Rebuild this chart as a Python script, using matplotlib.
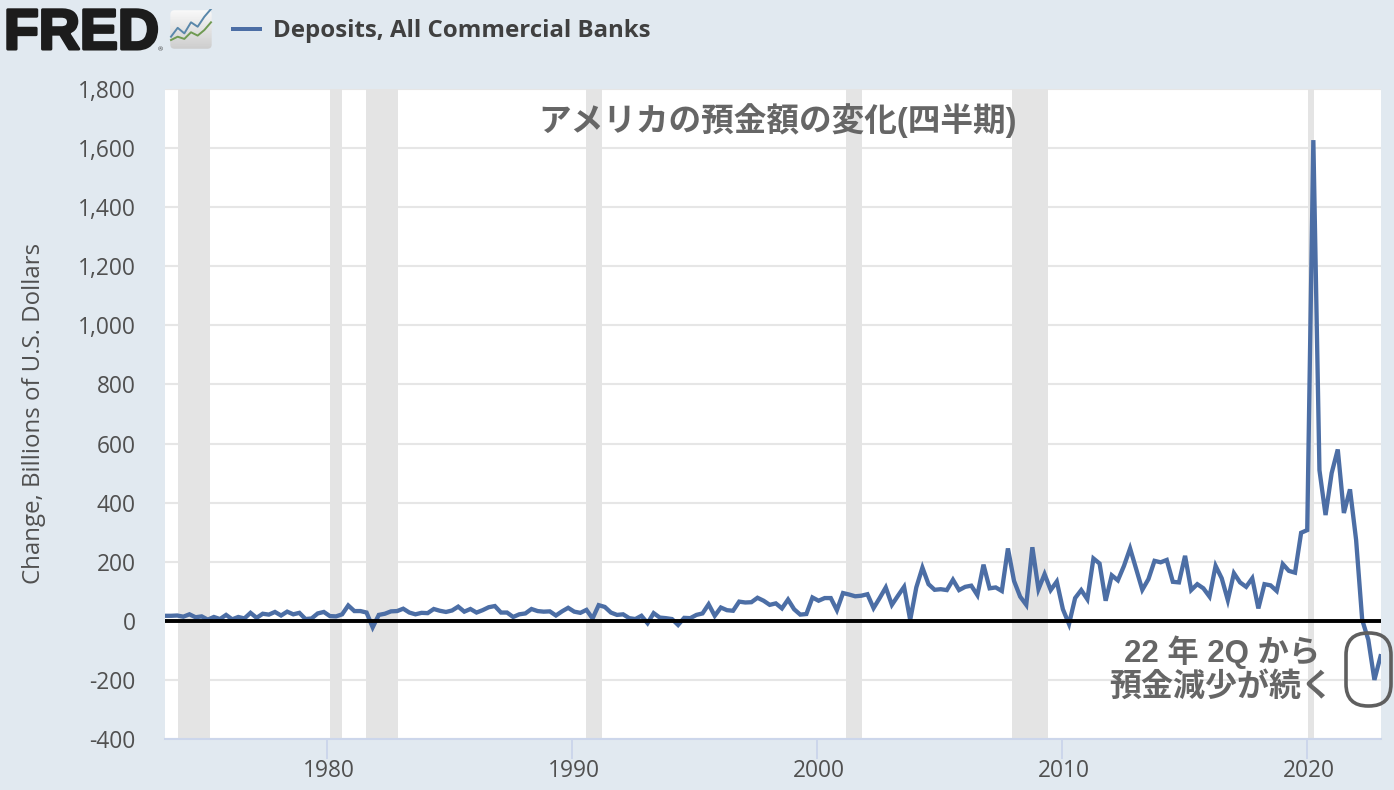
#!/usr/bin/python3
# -*- coding: UTF-8 -*-

import matplotlib
matplotlib.use("Agg")
import matplotlib.pyplot as plt
import matplotlib.patheffects as pe
import matplotlib.transforms as mtrans
import numpy as np
from matplotlib.patches import FancyBboxPatch, Rectangle

W, H = 1394, 790

# quarterly change in deposits, billions of dollars, 200 quarters up to 2023 Q1
changes = [
    17, 17, 18, 14, 22, 12, 15, 4, 13, 6,
    20, 5, 13, 8, 27, 10, 24, 21, 30, 18,
    31, 22, 27, 6, 8, 25, 30, 16, 15, 22,
    52, 33, 33, 28, -22, 20, 24, 32, 33, 41,
    28, 22, 27, 26, 40, 34, 30, 35, 48, 31,
    40, 28, 36, 46, 50, 28, 28, 13, 22, 25,
    40, 33, 31, 32, 18, 32, 44, 31, 27, 37,
    8, 53, 47, 28, 20, 22, 9, 6, 17, -8,
    26, 11, 9, 6, -14, 10, 9, 20, 25, 56,
    17, 45, 36, 34, 65, 62, 63, 78, 68, 54,
    59, 42, 72, 39, 21, 23, 79, 68, 77, 77,
    36, 94, 89, 83, 85, 90, 43, 77, 113, 54,
    85, 115, 3, 113, 180, 124, 105, 107, 104, 139,
    104, 115, 119, 87, 190, 110, 113, 101, 245, 135,
    82, 54, 249, 107, 158, 104, 133, 39, -11, 77,
    104, 73, 211, 194, 68, 154, 137, 186, 245, 175,
    105, 141, 203, 198, 206, 132, 130, 220, 104, 124,
    110, 82, 186, 144, 70, 161, 130, 115, 144, 42,
    124, 120, 101, 192, 169, 163, 298, 307, 1627, 510,
    358, 500, 580, 365, 445, 274, 3, -64, -200, -120,
]
start_year = 1973.39
quarter_step = 0.2493

recession_start = [1973.92, 1980.12, 1981.59, 1990.57, 2001.18, 2007.96, 2020.04]
recession_end = [1975.22, 1980.61, 1982.90, 1991.22, 2001.84, 2009.43, 2020.29]

y_ticks = [-400, -200, 0, 200, 400, 600, 800, 1000, 1200, 1400, 1600, 1800]
x_ticks = [1980, 1990, 2000, 2010, 2020]

icon_x = [0, 1, 2, 3, 4, 5, 6]
icon_blue = [1.0, 2.6, 1.6, 3.6, 2.8, 4.6, 6.0]
icon_green = [0.4, 1.0, 0.6, 1.8, 1.2, 2.2, 3.6]

BG = "#e1e9f0"
LINE = "#4c6ea5"
GRAY = "#666666"
AXIS = "#ccd6eb"
BAND = "#e6e6e6"
TEXT = "#505050"
NOTE_FONT = ["Liberation Sans", "Noto Sans CJK JP", "DejaVu Sans"]

plt.rcParams["font.family"] = ["Open Sans", "DejaVu Sans"]

fig = plt.figure(figsize=(W / 100, H / 100), dpi=100, facecolor=BG)
left, right, top, bottom = 165, 1381, 89, 739
ax = fig.add_axes([left / W, 1 - bottom / H, (right - left) / W, (bottom - top) / H])
ax.set_facecolor("white")

years = start_year + np.arange(len(changes)) * quarter_step
ax.set_xlim(1973.39, 2023.02)
ax.set_ylim(-400, 1800)

ax.grid(axis="y", color=BAND, lw=1.5, zorder=1)
ax.set_axisbelow(True)
for s, e in zip(recession_start, recession_end):
    ax.axvspan(s, e, color="#e4e4e4", lw=0, zorder=2)

ax.plot(years, changes, color=LINE, lw=3.1, solid_joinstyle="miter", zorder=3)
ax.axhline(0, color="black", lw=2.8, zorder=4)

for side in ["top", "left", "right"]:
    ax.spines[side].set_visible(False)
ax.spines["bottom"].set_color(AXIS)
ax.spines["bottom"].set_linewidth(1.5)

ax.set_yticks(y_ticks)
ax.set_yticklabels([f"{v:,}" for v in y_ticks])
ax.set_xticks(x_ticks)
ax.tick_params(axis="y", length=0, pad=21, labelsize=16.4, labelcolor=TEXT)
ax.tick_params(axis="x", length=14.5, width=1.4, color=AXIS, pad=0, labelsize=16.4, labelcolor=TEXT)
shift = mtrans.ScaledTranslation(2 / 100, 0, fig.dpi_scale_trans)
for lab in ax.get_xticklabels():
    lab.set_transform(lab.get_transform() + shift)
ax.set_ylabel("Change, Billions of U.S. Dollars", fontsize=17.3, color=TEXT)
ax.yaxis.set_label_coords(34 / W, 1 - 413 / H, transform=fig.transFigure)
ax.yaxis.label.set_verticalalignment("center")

# header: logo and legend
fig.text(4 / W, 1 - 49 / H, "FRED", fontsize=41, fontweight="bold", family="Liberation Sans",
         color="#1c1c1c", va="baseline", ha="left",
         path_effects=[pe.withStroke(linewidth=2.2, foreground="#1c1c1c")])
fig.text(158 / W, 1 - 51 / H, "®", fontsize=4.5, color="#333333", ha="left", va="baseline")

icon = fig.add_axes([169 / W, 1 - 50 / H, 44 / W, 41 / H])
icon.axis("off")
icon.set_xlim(0, 1)
icon.set_ylim(0, 1)
box = FancyBboxPatch((0.03, 0.03), 0.94, 0.94, boxstyle="round,pad=0,rounding_size=0.1",
                     fc="none", ec="none", transform=icon.transAxes)
icon.add_patch(box)
grad = icon.imshow(np.linspace(0.98, 0.8, 32).reshape(-1, 1), extent=(0, 1, 0, 1), aspect="auto",
                   cmap="gray", vmin=0, vmax=1, origin="upper")
grad.set_clip_path(box)
icon.plot((np.array(icon_x) + 0.3) / 6.6, (np.array(icon_blue) + 1.4) / 7.4, color="#5a87aa", lw=1.4)
icon.plot((np.array(icon_x) + 0.3) / 6.6, (np.array(icon_green) + 1.4) / 7.4, color="#6f9a52", lw=1.4)

fig.add_artist(Rectangle((231 / W, 1 - 31 / H), 31 / W, 3.5 / H, fc=LINE, ec="none", transform=fig.transFigure))
fig.text(273 / W, 1 - 31 / H, "Deposits, All Commercial Banks", fontsize=17.3, fontweight="bold",
         color="#404040", va="center", ha="left")

# added notes
fig.text(778 / W, 1 - 121 / H, "アメリカの預金額の変化(四半期)", family=NOTE_FONT, fontsize=23.5, fontweight="bold",
         color=GRAY, ha="center", va="center", zorder=6)
fig.text(1222 / W, 1 - 652 / H, "22 年 2Q から", family=NOTE_FONT, fontsize=22.5, fontweight="bold",
         color=GRAY, ha="center", va="center", zorder=6)
fig.text(1221 / W, 1 - 687 / H, "預金減少が続く", family=NOTE_FONT, fontsize=23, fontweight="bold",
         color=GRAY, ha="center", va="center", zorder=6)

ring = FancyBboxPatch((1346, H - 706), 45, 73, boxstyle="round,pad=0,rounding_size=22",
                      transform=None, fc="none", ec="#5f5f5f", lw=2.6, zorder=6)
fig.add_artist(ring)

fig.savefig("out.png", dpi=100, facecolor=BG)
